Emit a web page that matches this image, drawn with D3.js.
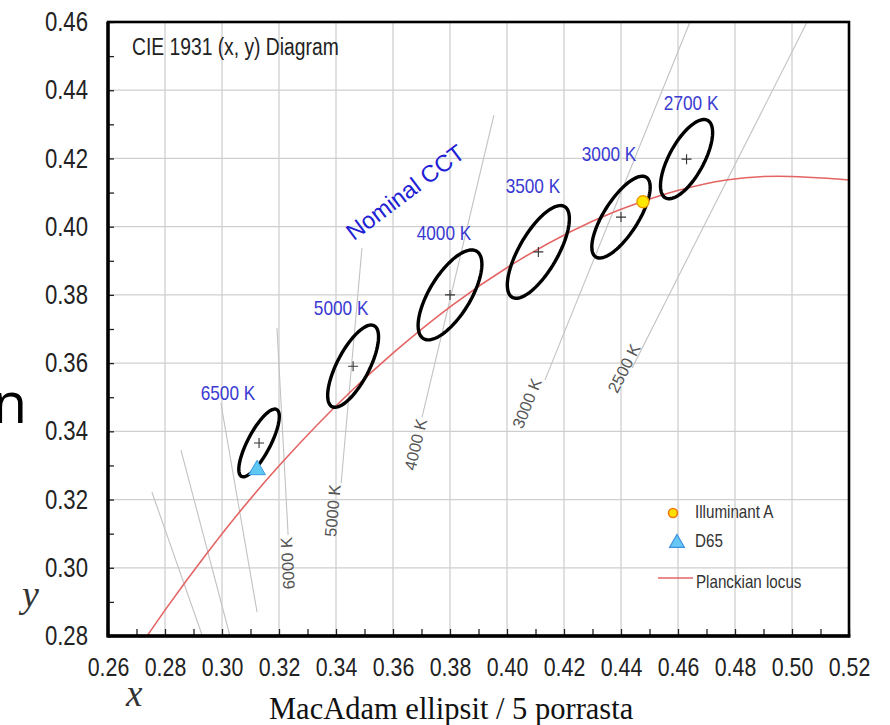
<!DOCTYPE html>
<html><head><meta charset="utf-8">
<script src="https://cdn.jsdelivr.net/npm/d3@7"></script>
<style>body{margin:0;background:#fff}</style>
</head><body>
<svg id="c" width="890" height="725" xmlns="http://www.w3.org/2000/svg"></svg>
<script>
// ---------- data ----------
const xTicks = [0.26,0.28,0.30,0.32,0.34,0.36,0.38,0.40,0.42,0.44,0.46,0.48,0.50,0.52];
const yTicks = [0.28,0.30,0.32,0.34,0.36,0.38,0.40,0.42,0.44,0.46];
const xMinor = d3.range(0, 27).map(i => +(0.26 + i * 0.01).toFixed(2));
const yMinor = d3.range(0, 19).map(i => +(0.28 + i * 0.01).toFixed(2));

const ellipseNames = ["6500 K","5000 K","4000 K","3500 K","3000 K","2700 K"];
const ellipseCx    = [0.313, 0.346, 0.380, 0.411, 0.440, 0.463];
const ellipseCy    = [0.3366, 0.3591, 0.3800, 0.3926, 0.4028, 0.4198];
const ellipseA     = [0.0116, 0.0140, 0.0159, 0.0162, 0.0147, 0.0136];
const ellipseB     = [0.0038, 0.0054, 0.0068, 0.0064, 0.0057, 0.0058];
const ellipseAngle = [56.8, 56.6, 51.8, 53.7, 51.1, 54.9];
const labelX       = [0.3021, 0.3418, 0.3779, 0.4091, 0.4358, 0.4646];
const labelY       = [0.3492, 0.3741, 0.3961, 0.4099, 0.4192, 0.4342];

const locusX = [0.2737,0.2807,0.2952,0.3135,0.3221,0.3451,0.3608,0.3805,0.4053,0.4369,0.4476,0.4599,0.4770,0.4950,0.5200];
const locusY = [0.2800,0.2884,0.3048,0.3237,0.3318,0.3516,0.3635,0.3768,0.3907,0.4041,0.4074,0.4106,0.4137,0.4148,0.4137];

const isoNames = ["", "", "", "6000 K", "5000 K", "4000 K", "3000 K", "2500 K"];
const isoX1 = [0.2754, 0.2856, 0.2996, 0.3193, 0.3491, 0.3954, 0.4642, 0.5053];
const isoY1 = [0.3222, 0.3345, 0.3483, 0.3703, 0.3937, 0.4327, 0.4600, 0.4600];
const isoX2 = [0.2930, 0.3028, 0.3123, 0.3232, 0.3418, 0.3702, 0.4133, 0.4439];
const isoY2 = [0.2803, 0.2800, 0.2870, 0.3096, 0.3248, 0.3442, 0.3550, 0.3586];

const illuminantA = [0.4477, 0.4073];
const d65 = [0.3123, 0.3287];
const legendNames = ["Illuminant A", "D65", "Planckian locus"];

const chartTitle = "CIE 1931 (x, y) Diagram";
const nominalText = "Nominal CCT";
const nominalPos = [0.3660, 0.4082];
const xAxisTitle = "MacAdam ellipsit / 5 porrasta";

// ---------- layout ----------
const svg = d3.select("#c");
const L = 108, R = 849, T = 22, B = 636;
const x = d3.scaleLinear([0.26, 0.52], [L, R]);
const y = d3.scaleLinear([0.28, 0.46], [B, T]);
const SANS = "'Liberation Sans', Arial, sans-serif";
const SERIF = "'Liberation Serif', 'Times New Roman', serif";
// label nudges (pixels along the line / across it)
const isoLabelAlong = [0, 0, 0, -2, -2, -2, -2, 22];
const isoLabelPerp  = [0, 0, 0, -2, -6, 0, -8, -7];

function narrow(sel, f = 0.82) {
  sel.each(function () {
    const w = this.getComputedTextLength();
    d3.select(this).attr("textLength", w * f).attr("lengthAdjust", "spacingAndGlyphs");
  });
}

svg.append("rect").attr("width", 890).attr("height", 725).attr("fill", "#fff");

// grid
const grid = svg.append("g").attr("stroke", "#cfcfcf").attr("stroke-width", 1.3);
grid.selectAll(".gx").data(xTicks.slice(1, -1)).join("line")
  .attr("x1", d => x(d)).attr("x2", d => x(d)).attr("y1", T).attr("y2", B);
grid.selectAll(".gy").data(yTicks.slice(1, -1)).join("line")
  .attr("y1", d => y(d)).attr("y2", d => y(d)).attr("x1", L).attr("x2", R);

// iso-CCT lines
const iso = svg.append("g");
isoNames.forEach((name, i) => {
  const p1 = [x(isoX1[i]), y(isoY1[i])], p2 = [x(isoX2[i]), y(isoY2[i])];
  iso.append("line").attr("x1", p1[0]).attr("y1", p1[1]).attr("x2", p2[0]).attr("y2", p2[1])
    .attr("stroke", "#c2c2c2").attr("stroke-width", 1.1);
  if (name) {
    const ang = Math.atan2(p1[1] - p2[1], p1[0] - p2[0]) * 180 / Math.PI;
    iso.append("text").attr("transform", `translate(${p2[0]},${p2[1]}) rotate(${ang})`)
      .attr("x", isoLabelAlong[i]).attr("y", isoLabelPerp[i]).attr("dy", "0.35em").attr("text-anchor", "end")
      .attr("font-family", SANS).attr("font-size", 16.5).attr("fill", "#555").text(name);
  }
});

// Planckian locus
const locus = locusX.map((v, i) => [v, locusY[i]]);
svg.append("path").datum(locus)
  .attr("d", d3.line().x(d => x(d[0])).y(d => y(d[1])).curve(d3.curveMonotoneX))
  .attr("fill", "none").attr("stroke", "#e46464").attr("stroke-width", 1.6);

// ellipses
const eg = svg.append("g");
ellipseNames.forEach((name, i) => {
  const th = ellipseAngle[i] * Math.PI / 180;
  const pts = d3.range(0, 96).map(k => {
    const t = k / 96 * 2 * Math.PI;
    const dx = ellipseA[i] * Math.cos(t) * Math.cos(th) - ellipseB[i] * Math.sin(t) * Math.sin(th);
    const dy = ellipseA[i] * Math.cos(t) * Math.sin(th) + ellipseB[i] * Math.sin(t) * Math.cos(th);
    return [x(ellipseCx[i] + dx), y(ellipseCy[i] + dy)];
  });
  eg.append("path").attr("d", d3.line().curve(d3.curveLinearClosed)(pts))
    .attr("fill", "none").attr("stroke", "#000").attr("stroke-width", 3.4);
  eg.append("path").attr("transform", `translate(${x(ellipseCx[i])},${y(ellipseCy[i])})`)
    .attr("d", "M-5,0H5M0,-5V5").attr("stroke", "#333").attr("stroke-width", 1.1);
  eg.append("text").attr("x", x(labelX[i])).attr("y", y(labelY[i]))
    .attr("text-anchor", "middle").attr("font-family", SANS).attr("font-size", 21)
    .attr("fill", "#3a3ad2").text(name).call(narrow);
});

// Nominal CCT
svg.append("text")
  .attr("transform", `translate(${x(nominalPos[0])},${y(nominalPos[1])}) rotate(-37)`)
  .attr("text-anchor", "middle").attr("font-family", SANS).attr("font-size", 23.5)
  .attr("fill", "#2020d4").text(nominalText);

// markers
svg.append("path").attr("transform", `translate(${x(d65[0])},${y(d65[1])})`)
  .attr("d", d3.symbol(d3.symbolTriangle, 120)())
  .attr("fill", "#5ec8f2").attr("stroke", "#3a9be0").attr("stroke-width", 1);
svg.append("circle").attr("cx", x(illuminantA[0])).attr("cy", y(illuminantA[1])).attr("r", 6)
  .attr("fill", "#ffe800").attr("stroke", "#f0a000").attr("stroke-width", 1.5);

// axes
const yAx = svg.append("g").attr("transform", `translate(${L},0)`)
  .call(d3.axisLeft(y).tickValues(yTicks).tickSize(0).tickPadding(20).tickFormat(d3.format(".2f")));
yAx.select(".domain").remove();
yAx.selectAll("text").attr("font-family", SANS).attr("font-size", 27).attr("fill", "#222").call(narrow);

const xAx = svg.append("g").attr("transform", `translate(0,${B})`)
  .call(d3.axisBottom(x).tickValues(xTicks).tickSize(0).tickPadding(22).tickFormat(d3.format(".2f")));
xAx.select(".domain").remove();
xAx.selectAll("text").attr("font-family", SANS).attr("font-size", 26).attr("fill", "#222").call(narrow);

// minor inward ticks
const yMin = svg.append("g").attr("transform", `translate(${L},0)`)
  .call(d3.axisRight(y).tickValues(yMinor).tickSize(6).tickFormat(""));
yMin.select(".domain").remove();
yMin.selectAll("line").attr("stroke", "#222").attr("stroke-width", 1.3);
const xMin = svg.append("g").attr("transform", `translate(0,${B})`)
  .call(d3.axisTop(x).tickValues(xMinor).tickSize(7).tickFormat(""));
xMin.select(".domain").remove();
xMin.selectAll("line").attr("stroke", "#222").attr("stroke-width", 1.3);

// frame
svg.append("rect").attr("x", L).attr("y", T).attr("width", R - L).attr("height", B - T)
  .attr("fill", "none").attr("stroke", "#000").attr("stroke-width", 2.6);
svg.append("line").attr("x1", L).attr("x2", L).attr("y1", T).attr("y2", B + 1.5)
  .attr("stroke", "#000").attr("stroke-width", 3.4);
svg.append("line").attr("x1", L).attr("x2", R + 1.3).attr("y1", B).attr("y2", B)
  .attr("stroke", "#000").attr("stroke-width", 3.4);

// title
svg.append("text").attr("x", 132).attr("y", 55).attr("font-family", SANS).attr("font-size", 23.5)
  .attr("fill", "#222").text(chartTitle).call(narrow);

// legend
const lg = svg.append("g");
lg.append("circle").attr("cx", 673).attr("cy", 513).attr("r", 4.5)
  .attr("fill", "#ffe000").attr("stroke", "#ee7a10").attr("stroke-width", 1.6);
lg.append("path").attr("transform", "translate(677,543)").attr("d", d3.symbol(d3.symbolTriangle, 95)())
  .attr("fill", "#68c8f4").attr("stroke", "#3a8fe0").attr("stroke-width", 1.2);
lg.append("line").attr("x1", 658).attr("x2", 693).attr("y1", 578).attr("y2", 578)
  .attr("stroke", "#e46464").attr("stroke-width", 1.5);
[518, 547, 588].forEach((yy, i) => {
  lg.append("text").attr("x", i === 2 ? 696 : 695).attr("y", yy).attr("font-family", SANS)
    .attr("font-size", 18.5).attr("fill", "#333").text(legendNames[i]).call(narrow);
});

// axis symbols and titles
svg.append("text").attr("x", 22).attr("y", 607).attr("font-family", SERIF).attr("font-style", "italic")
  .attr("font-size", 38).attr("fill", "#333").text("y");
svg.append("text").attr("x", 126).attr("y", 706).attr("font-family", SERIF).attr("font-style", "italic")
  .attr("font-size", 37).attr("fill", "#333").text("x");
svg.append("text").attr("x", 269).attr("y", 719).attr("font-family", SERIF)
  .attr("font-size", 30.5).attr("fill", "#111").text(xAxisTitle);

// stray slide glyph at the left edge
svg.append("text").attr("x", 27).attr("y", 423).attr("text-anchor", "end")
  .attr("font-family", "'Open Sans', sans-serif").attr("font-size", 56).attr("fill", "#000").text("n");
</script>
</body></html>
